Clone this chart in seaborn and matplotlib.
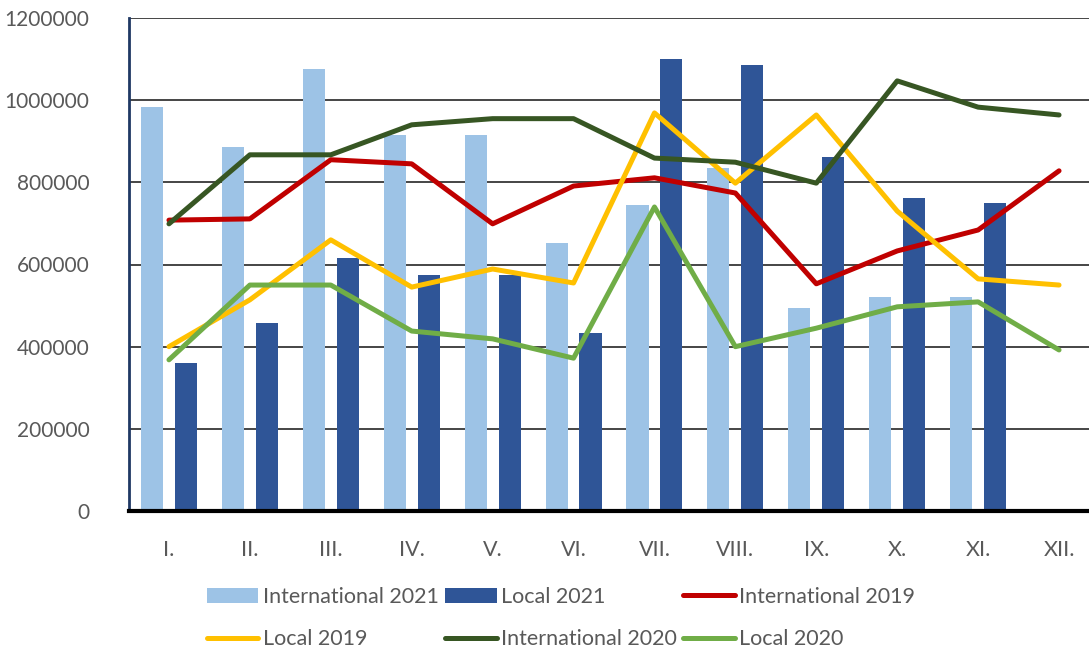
import numpy as np
import pandas as pd
import matplotlib
matplotlib.use("Agg")
import matplotlib.pyplot as plt
import seaborn as sns

months = ["I.", "II.", "III.", "IV.", "V.", "VI.", "VII.", "VIII.", "IX.", "X.", "XI.", "XII."]

intl_2021 = [983000, 886000, 1076000, 915000, 915000, 652000, 745000, 835000, 494000, 521000, 521000, np.nan]
local_2021 = [360000, 458000, 616000, 574000, 575000, 433000, 1100000, 1086000, 862000, 762000, 750000, np.nan]
intl_2019 = [708000, 711000, 855000, 845000, 699000, 791000, 811000, 774000, 553000, 633000, 684000, 828000]
local_2019 = [400000, 514000, 660000, 545000, 589000, 555000, 969000, 798000, 964000, 730000, 565000, 550000]
intl_2020 = [699000, 867000, 867000, 940000, 955000, 955000, 859000, 849000, 798000, 1047000, 983000, 964000]
local_2020 = [368000, 550000, 550000, 438000, 419000, 372000, 740000, 400000, 445000, 497000, 509000, 392000]

bar_names = ["International 2021", "Local 2021"]
line_names = ["International 2019", "Local 2019", "International 2020", "Local 2020"]
colors = {
    "International 2021": "#9DC3E6",
    "Local 2021": "#2F5597",
    "International 2019": "#C00000",
    "Local 2019": "#FFC000",
    "International 2020": "#375623",
    "Local 2020": "#70AD47",
}

bars = pd.DataFrame({
    "month": months * 2,
    "value": intl_2021 + local_2021,
    "series": [bar_names[0]] * 12 + [bar_names[1]] * 12,
})
lines = pd.DataFrame({
    "pos": list(range(12)) * 4,
    "value": intl_2019 + local_2019 + intl_2020 + local_2020,
    "series": sum([[n] * 12 for n in line_names], []),
})

sns.set_theme(style="white")
plt.rcParams["font.family"] = ["Lato", "DejaVu Sans"]
text_color = "#595959"

fig = plt.figure(figsize=(10.89, 6.52), dpi=100)
ax = fig.add_axes([128.5 / 1089, 141 / 652, 971 / 1089, 493 / 652])

sns.barplot(data=bars, x="month", y="value", hue="series", order=months,
            hue_order=bar_names, palette=colors, width=0.84, gap=0.35,
            saturation=1, ax=ax, legend=True, zorder=2, edgecolor="none")
sns.lineplot(data=lines, x="pos", y="value", hue="series", hue_order=line_names,
             palette=colors, linewidth=3.6, ax=ax, legend=True, zorder=3)

ax.set_xlim(-0.5, 11.5)
ax.set_ylim(0, 1200000)
ax.set_yticks(np.arange(0, 1200001, 200000))
ax.set_yticklabels([str(v) for v in range(0, 1200001, 200000)])
ax.yaxis.grid(True, color="#262626", linewidth=1.2, zorder=0)
ax.set_axisbelow(True)
ax.set_xlabel("")
ax.set_ylabel("")
for s in ["top", "right"]:
    ax.spines[s].set_visible(False)
ax.spines["left"].set_color("#1F3864")
ax.spines["left"].set_linewidth(2)
ax.spines["bottom"].set_color("black")
ax.spines["bottom"].set_linewidth(3)
ax.tick_params(axis="y", length=0, pad=28, labelsize=15, labelcolor=text_color)
ax.tick_params(axis="x", length=0, pad=21, labelsize=15.5, labelcolor=text_color)

handles, labels = ax.get_legend_handles_labels()
hmap = dict(zip(labels, handles))
order = ["International 2021", "Local 2019", "Local 2021", "International 2020",
         "International 2019", "Local 2020"]
ax.legend([hmap[o] for o in order], order, ncol=3, loc="upper left",
          bbox_to_anchor=(196 / 1089, 76 / 652), bbox_transform=fig.transFigure,
          frameon=False, fontsize=15.5, labelcolor=text_color, handlelength=2.4,
          handletextpad=0.2, columnspacing=0.3, labelspacing=1.05, borderpad=0)

fig.savefig("out.png", dpi=100)
